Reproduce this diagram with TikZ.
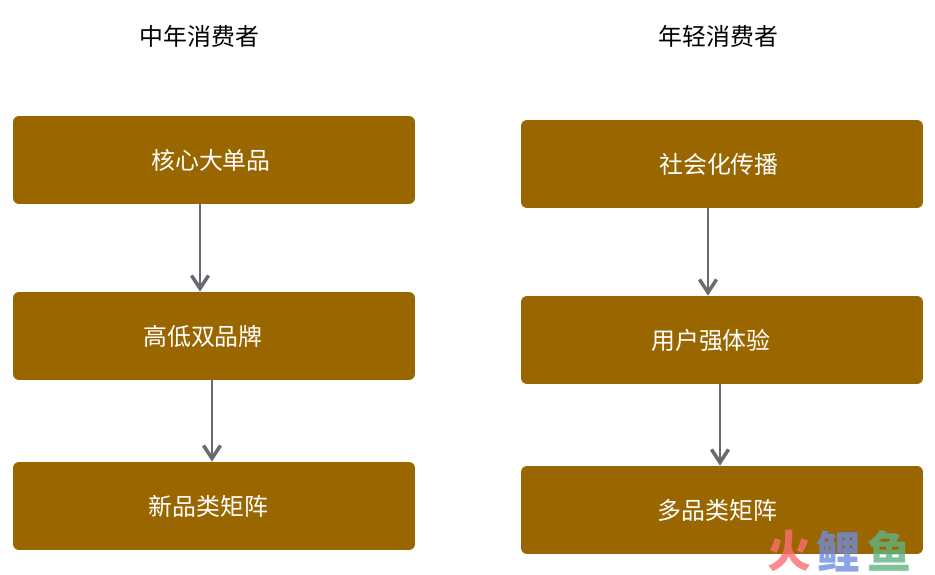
\documentclass[tikz,border=0pt]{standalone}
\usepackage{fontspec}
\setmainfont{Noto Sans CJK SC}
\usetikzlibrary{arrows.meta, positioning}
\definecolor{stagefill}{RGB}{153,102,0}
\definecolor{arrowgray}{RGB}{105,105,112}
\definecolor{logored}{RGB}{250,110,115}
\definecolor{logoblue}{RGB}{110,140,225}
\definecolor{logogreen}{RGB}{95,180,130}

\begin{document}
\begin{tikzpicture}[x=0.02cm, y=-0.02cm]

% TikZ styles
\tikzset{
  stage/.style={rectangle, draw=none, fill=stagefill, rounded corners=0.12cm, text=white, minimum width=8.04cm, minimum height=1.76cm, inner sep=0pt, font=\fontsize{13.6pt}{16pt}\selectfont},
  title/.style={font=\fontsize{13.6pt}{16pt}\selectfont, text=black, inner sep=0pt},
  arrow/.style={-{Straight Barb[length=0.26cm, width=0.34cm, line width=0.07cm]}, line width=0.05cm, draw=arrowgray},
  logotext/.style={font=\fontsize{25pt}{28pt}\selectfont\bfseries, inner sep=0pt, opacity=0.8}
};

\useasboundingbox (0,0) rectangle (935,574);

% linke Spalte
\node[title] (titleleft) at (199.5,36) {中年消费者};
\node[stage] (core) at (214,160) {核心大单品\hspace*{0.12cm}};
\node[stage] (brand) at (214,336) {高低双品牌\hspace*{0.44cm}};
\node[stage] (matrix) at (214,506) {新品类矩阵\hspace*{0.22cm}};

% rechte Spalte
\node[title] (titleright) at (718.5,36) {年轻消费者};
\node[stage] (social) at (722,164) {社会化传播\hspace*{0.12cm}};
\node[stage] (user) at (722,340) {用户强体验\hspace*{0.44cm}};
\node[stage] (multi) at (722,510) {多品类矩阵\hspace*{0.18cm}};

% Pfeile
\draw[arrow] ([xshift=-0.28cm]core.south) -- ([xshift=-0.28cm]brand.north);
\draw[arrow] ([xshift=-0.04cm]brand.south) -- ([xshift=-0.04cm]matrix.north);
\draw[arrow] ([xshift=-0.28cm]social.south) -- ([xshift=-0.28cm]user.north);
\draw[arrow] ([xshift=-0.04cm]user.south) -- ([xshift=-0.04cm]multi.north);

% Wasserzeichen
\node[logotext, text=logored] (logofire) at (789,551) {火};
\node[logotext, text=logoblue] (logocarp) at (838,551) {鲤};
\node[logotext, text=logogreen] (logofish) at (889,551) {鱼};
\end{tikzpicture}
\end{document}
